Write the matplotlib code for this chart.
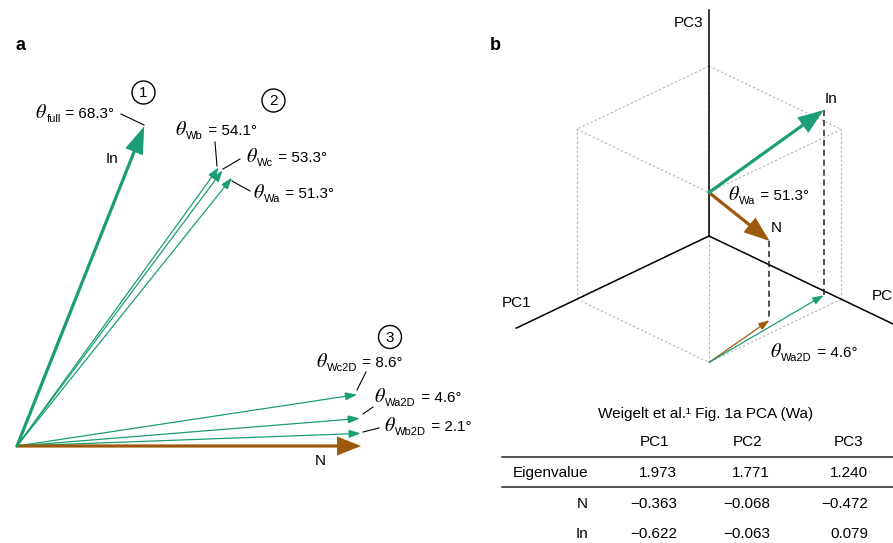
import numpy as np
import matplotlib
matplotlib.use('Agg')
import matplotlib.pyplot as plt
from matplotlib.patches import Circle, FancyArrowPatch

plt.rcParams['font.family'] = ['Liberation Sans', 'DejaVu Sans']
plt.rcParams['mathtext.fontset'] = 'custom'
plt.rcParams['mathtext.rm'] = 'Liberation Sans'
plt.rcParams['mathtext.it'] = 'STIXGeneral:italic'
plt.rcParams['mathtext.bf'] = 'Liberation Sans:bold'

# ---------------- data ----------------
full_name = 'full'
full_angle = 68.3
window_names = ['Wb', 'Wc', 'Wa']
window_angles = [54.1, 53.3, 51.3]
window2d_names = ['Wc2D', 'Wa2D', 'Wb2D']
window2d_angles = [8.6, 4.6, 2.1]
circle_numbers = ['1', '2', '3']

pc_names = ['PC1', 'PC2', 'PC3']
eigenvalues = [1.973, 1.771, 1.240]
loading_N = [-0.363, -0.068, -0.472]
loading_In = [-0.622, -0.063, 0.079]
theta_Wa = 51.3
theta_Wa2D = 4.6
table_title = 'Weigelt et al.\u00b9 Fig. 1a PCA (Wa)'

GREEN = '#1b9e77'
BROWN = '#9e5a0c'

fig = plt.figure(figsize=(8.93, 5.43), dpi=100)
ax = fig.add_axes([0, 0, 1, 1])
ax.set_xlim(0, 893)
ax.set_ylim(543, 0)
ax.axis('off')
renderer = fig.canvas.get_renderer()


def arrow(p0, p1, color, lw, hl, hw, z=3):
    a = FancyArrowPatch(tuple(p0), tuple(p1),
                        arrowstyle=f'-|>,head_length={hl},head_width={hw}',
                        mutation_scale=1, color=color, lw=lw,
                        shrinkA=0, shrinkB=0, joinstyle='miter', zorder=z)
    ax.add_patch(a)


def theta_label(x, y, name, val):
    """Draw 'θ_name = val°' with a large italic theta; (x, y) = left, baseline."""
    t1 = ax.text(x, y, r'$\theta$', fontsize=14.5, ha='left', va='baseline')
    w1 = t1.get_window_extent(renderer).width
    t2 = ax.text(x + w1 - 0.5, y + 4, name, fontsize=8, ha='left', va='baseline')
    w2 = t2.get_window_extent(renderer).width
    ax.text(x + w1 + w2, y, f' = {val}\u00b0', fontsize=11, ha='left', va='baseline')

# ---------------- panel a ----------------
Oa = np.array([17.0, 446.0])
R = 344.0


def tip_a(angle):
    t = np.deg2rad(angle)
    return Oa + R * np.array([np.cos(t), -np.sin(t)])

arrow(Oa, tip_a(0.0), BROWN, 2.3, 13, 5.2, z=4)
arrow(Oa, tip_a(full_angle), GREEN, 2.3, 15, 5.2, z=4)
for ang in window_angles:
    arrow(Oa, tip_a(ang), GREEN, 0.9, 7, 2.4)
for ang in window2d_angles:
    arrow(Oa, tip_a(ang), GREEN, 0.9, 7, 2.4)

ax.text(112, 159, 'In', fontsize=11, ha='center', va='center')
ax.text(320, 461, 'N', fontsize=11, ha='center', va='center')

theta_label(35, 118, full_name, full_angle)
ax.plot([121, 144], [114, 125], color='black', lw=0.8)

a_pos = {'Wb': (175, 135, [(215, 142), (217, 166)]),
         'Wc': (246, 162, [(240, 159), (223, 169)]),
         'Wa': (253, 198, [(250, 191), (232, 181)]),
         'Wc2D': (316, 367, [(366, 372), (357, 390)]),
         'Wa2D': (374, 402, [(373, 407), (363, 414)]),
         'Wb2D': (384, 431, [(379, 428), (363, 432)])}
for name, val in list(zip(window_names, window_angles)) + list(zip(window2d_names, window2d_angles)):
    x, y, seg = a_pos[name]
    theta_label(x, y, name, val)
    ax.plot([seg[0][0], seg[1][0]], [seg[0][1], seg[1][1]], color='black', lw=0.8)

for num, (cx, cy) in zip(circle_numbers, [(143.5, 92.5), (273.5, 100.5), (390, 337)]):
    ax.add_patch(Circle((cx, cy), 11.5, fill=False, ec='black', lw=1.0))
    ax.text(cx, cy + 0.5, num, fontsize=11, ha='center', va='center')

ax.text(15, 45, 'a', fontsize=13, fontweight='bold', ha='left', va='center')
ax.text(490, 45, 'b', fontsize=13, fontweight='bold', ha='left', va='center')

# ---------------- panel b (3D sketch) ----------------
O3 = np.array([709.0, 236.0])
E = np.array([[-205.0, 98.0], [205.0, 98.0], [0.0, -192.0]])
L, H = 0.645, 0.885


def proj(p):
    return O3 + np.asarray(p, dtype=float) @ E

corners = {}
for i in (0, 1):
    for j in (0, 1):
        for k in (0, 1):
            corners[(i, j, k)] = proj((i * L, j * L, k * H))
for a_ in corners:
    for b_ in corners:
        if sum(abs(np.array(a_) - np.array(b_))) == 1 and a_ < b_:
            p, q = corners[a_], corners[b_]
            ax.plot([p[0], q[0]], [p[1], q[1]], color='#b3b3b3', lw=0.8,
                    ls=(0, (2, 2)), zorder=1)

for vec in [(0.94, 0, 0), (0, 1.0, 0), (0, 0, 1.177)]:
    p, q = proj((0, 0, 0)), proj(vec)
    ax.plot([p[0], q[0]], [p[1], q[1]], color='black', lw=1.1, zorder=2)
ax.text(703, 23, 'PC3', fontsize=11, ha='right', va='center')
ax.text(517, 303, 'PC1', fontsize=11, ha='center', va='center')
ax.text(872, 296, 'PC2', fontsize=11, ha='left', va='center')

base3 = np.array([L, L, H])
base2 = np.array([L, L, 0.0])
for load, col in [(loading_N, BROWN), (loading_In, GREEN)]:
    ld = np.array(load)
    t3 = base3 + ld
    t2 = base2 + np.array([ld[0], ld[1], 0.0])
    p3, p2 = proj(t3), proj(t2)
    ax.plot([p3[0], p2[0]], [p3[1], p2[1]], color='#222222', lw=1.1,
            ls=(0, (4, 2.5)), zorder=2)
    arrow(proj(base2), p2, col, 0.9, 6.5, 2.3, z=3)
    arrow(proj(base3), p3, col, 2.3, 14, 5.2, z=4)
    if col == GREEN:
        ax.text(p3[0] + 1, p3[1] - 11, 'In', fontsize=11, ha='left', va='center')
    else:
        ax.text(p3[0] + 1, p3[1] - 13, 'N', fontsize=11, ha='left', va='center')

theta_label(728, 200, 'Wa', theta_Wa)
theta_label(770, 357, 'Wa2D', theta_Wa2D)

# ---------------- table ----------------
ax.text(706, 414, table_title, fontsize=11, ha='center', va='center')
hdr_x = [655, 748, 849]
val_x = [677, 770, 868]
for name, x in zip(pc_names, hdr_x):
    ax.text(x, 442, name, fontsize=11, ha='center', va='center')
ax.plot([502, 893], [457, 457], color='#222222', lw=1.1)
ax.plot([502, 893], [487, 487], color='#222222', lw=1.1)


def fnum(v):
    s = f'{abs(v):.3f}'
    return ('\u2212' + s) if v < 0 else s

rows = [('Eigenvalue', eigenvalues, 473), ('N', loading_N, 504), ('In', loading_In, 534)]
for label, vals, y in rows:
    ax.text(588, y, label, fontsize=11, ha='right', va='center')
    for v, x in zip(vals, val_x):
        ax.text(x, y, fnum(v), fontsize=11, ha='right', va='center')

fig.savefig('out.png', dpi=100)
